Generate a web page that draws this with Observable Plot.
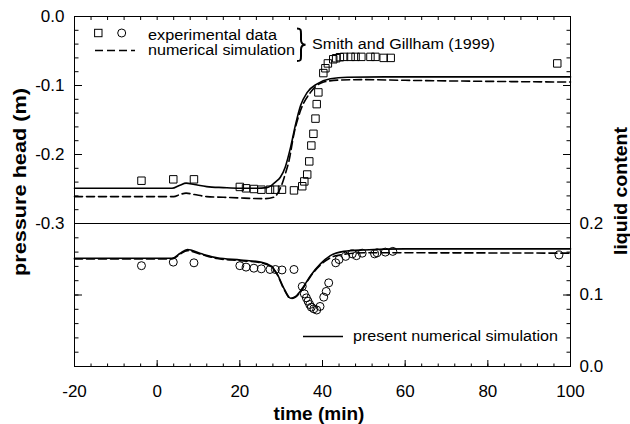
<!DOCTYPE html>
<html><head><meta charset="utf-8">
<script src="https://cdn.jsdelivr.net/npm/d3@7"></script>
<script src="https://cdn.jsdelivr.net/npm/@observablehq/plot@0.6"></script>
<style>
html,body{margin:0;padding:0;background:#fff;}
#wrap{position:relative;width:630px;height:424px;overflow:hidden;background:#fff;}
#wrap svg{position:absolute;left:0;top:0;}
</style></head><body><div id="wrap"></div>
<script>
// ---- tick labels ----
const timeTicks = [-20, 0, 20, 40, 60, 80, 100];
const pressureTicks = [0, -0.1, -0.2, -0.3];
const liquidTicks = [0, 0.1, 0.2];

// ---- pressure head: present numerical simulation (solid) ----
const pSolidT = [-20, 3.6, 5.5, 7.0, 9.0, 12, 16, 20, 24, 26.5, 27.6, 28.6, 29.8, 31.0, 32.3, 33.5, 34.7, 36.3, 38.7, 41.9, 46, 55, 70, 100];
const pSolidV = [-0.249, -0.249, -0.2445, -0.2415, -0.2435, -0.2465, -0.248, -0.249, -0.249, -0.248, -0.245, -0.240, -0.233, -0.218, -0.189, -0.156, -0.129, -0.110, -0.0976, -0.0903, -0.088, -0.0875, -0.0875, -0.0875];

// ---- pressure head: Smith and Gillham numerical simulation (dashed) ----
const pDashT = [-20, 4.0, 5.5, 7.0, 9.0, 12, 16, 20, 26, 28.2, 29.2, 30.2, 31.0, 31.9, 33.1, 34.7, 37.1, 40.3, 44.4, 50, 60, 80, 100];
const pDashV = [-0.261, -0.261, -0.258, -0.256, -0.258, -0.261, -0.262, -0.263, -0.264, -0.262, -0.256, -0.243, -0.228, -0.209, -0.170, -0.136, -0.110, -0.095, -0.092, -0.0915, -0.0925, -0.094, -0.095];

// ---- pressure head: experimental data (squares) ----
const sqT = [-3.8, 3.9, 8.9, 20.0, 21.5, 23.4, 25.2, 27.3, 28.6, 30.2, 33.1, 35.1, 35.6, 36.3, 36.8, 37.3, 37.8, 38.3, 38.6, 39.0, 40.2, 40.7, 41.3, 42.6, 43.3, 44.2, 45.2, 46.8, 48.0, 49.4, 51.6, 52.8, 54.8, 56.5, 96.8];
const sqV = [-0.238, -0.236, -0.236, -0.247, -0.249, -0.250, -0.251, -0.251, -0.251, -0.251, -0.252, -0.246, -0.239, -0.229, -0.210, -0.187, -0.170, -0.148, -0.127, -0.110, -0.082, -0.075, -0.068, -0.062, -0.0605, -0.059, -0.0585, -0.0585, -0.0585, -0.0585, -0.0585, -0.0585, -0.060, -0.060, -0.068];

// ---- liquid content: present numerical simulation (solid) ----
const lSolidT = [-20, 3.6, 5.5, 7.3, 10.5, 14.5, 20.2, 25, 27.4, 29, 30.6, 32.3, 33.5, 35.1, 37.1, 39.5, 41.9, 45.2, 50, 60, 100];
const lSolidV = [0.1513, 0.1513, 0.158, 0.1636, 0.158, 0.152, 0.149, 0.146, 0.141, 0.130, 0.110, 0.0955, 0.098, 0.109, 0.127, 0.1436, 0.155, 0.161, 0.163, 0.1645, 0.1645];

// ---- liquid content: Smith and Gillham numerical simulation (dashed) ----
const lDashT = [-20, 3.6, 5.5, 7.3, 10.5, 14.5, 20.2, 25, 27.4, 29, 30.6, 32.3, 33.5, 35.1, 37.1, 39.5, 41.9, 45.2, 50, 60, 100];
const lDashV = [0.1505, 0.1505, 0.157, 0.162, 0.157, 0.151, 0.148, 0.145, 0.140, 0.129, 0.109, 0.095, 0.097, 0.108, 0.126, 0.142, 0.152, 0.157, 0.159, 0.159, 0.1585];

// ---- liquid content: experimental data (circles) ----
const cT = [-3.8, 3.9, 8.9, 20.0, 21.5, 23.4, 25.2, 27.3, 28.6, 30.2, 33.1, 35.1, 35.6, 36.1, 36.5, 36.9, 37.3, 37.9, 38.6, 39.4, 40.3, 40.9, 41.5, 43.2, 44.0, 45.6, 47.2, 48.2, 49.6, 52.6, 53.2, 55.2, 57.0, 97.2];
const cV = [0.141, 0.146, 0.145, 0.141, 0.139, 0.1375, 0.1366, 0.1357, 0.1357, 0.135, 0.1357, 0.112, 0.1016, 0.096, 0.0913, 0.0867, 0.083, 0.0807, 0.079, 0.084, 0.097, 0.105, 0.117, 0.145, 0.1496, 0.154, 0.1575, 0.155, 0.1585, 0.1575, 0.159, 0.160, 0.161, 0.156];

(function () {
const FONT = '"Liberation Sans", Arial, Helvetica, sans-serif';
const fmt = d => d.toFixed(1);
const none = () => "";
const zip = (a, b) => a.map((x, i) => ({x, y: b[i]}));

const timeMinor = d3.range(-20, 100.001, 4);
const pMinor = d3.range(0, 16).map(i => -0.3 + i * 0.02);
const lMinor = d3.range(0, 11).map(i => i * 0.02);

// inward-pointing tick marks: the tick shape of the opposite side, anchored on this edge
const inTicksY = (ticks, edge, size) => Plot.axisY(ticks, {
  anchor: edge === "left" ? "right" : "left", frameAnchor: edge,
  tickSize: size, tickFormat: none, label: null
});
const inTicksX = (ticks, edge, size) => Plot.axisX(ticks, {
  anchor: edge === "top" ? "bottom" : "top", frameAnchor: edge,
  tickSize: size, tickFormat: none, label: null
});

const wrap = document.getElementById("wrap");
const common = {
  width: 630, height: 424, marginLeft: 74, marginRight: 60,
  x: {domain: [-20, 100]},
  style: {fontFamily: FONT, fontSize: "17px", background: "transparent", color: "black", overflow: "visible"}
};

// Upper pane: pressure head
const upperPlot = Plot.plot({
  ...common,
  marginTop: 16, marginBottom: 201,
  y: {domain: [-0.3, 0]},
  marks: [
    Plot.line(zip(pDashT, pDashV), {x: "x", y: "y", stroke: "black", strokeWidth: 1.6, strokeDasharray: "8,4", curve: "monotone-x"}),
    Plot.line(zip(pSolidT, pSolidV), {x: "x", y: "y", stroke: "black", strokeWidth: 1.6, curve: "monotone-x"}),
    Plot.dot(zip(sqT, sqV), {x: "x", y: "y", symbol: "square", r: 4.2, stroke: "black", fill: "none", strokeWidth: 1}),
    Plot.frame({stroke: "black", strokeWidth: 1}),
    inTicksX(timeMinor, "top", 4),
    inTicksY(pMinor, "left", 3.5),
    inTicksY(pressureTicks, "left", 7),
    Plot.axisY(pressureTicks, {anchor: "left", tickSize: 0, tickPadding: 10, tickFormat: fmt, label: null}),
    inTicksY(pMinor, "right", 3.5),
    inTicksY(pressureTicks, "right", 7)
  ]
});

// Lower pane: liquid content
const lowerPlot = Plot.plot({
  ...common,
  marginTop: 223, marginBottom: 58,
  y: {domain: [0, 0.2]},
  marks: [
    Plot.line(zip(lDashT, lDashV), {x: "x", y: "y", stroke: "black", strokeWidth: 1.6, strokeDasharray: "8,4", curve: "monotone-x"}),
    Plot.line(zip(lSolidT, lSolidV), {x: "x", y: "y", stroke: "black", strokeWidth: 1.6, curve: "monotone-x"}),
    Plot.dot(zip(cT, cV), {x: "x", y: "y", r: 4, stroke: "black", fill: "none", strokeWidth: 1}),
    Plot.frame({stroke: "black", strokeWidth: 1}),
    inTicksX(timeMinor, "bottom", 3.5),
    inTicksX(timeTicks, "bottom", 7),
    Plot.axisX(timeTicks, {anchor: "bottom", tickSize: 0, tickPadding: 18, tickFormat: d => String(d), label: null}),
    inTicksY(lMinor, "left", 3.5),
    inTicksY(liquidTicks, "left", 7),
    inTicksY(lMinor, "right", 3.5),
    inTicksY(liquidTicks, "right", 7),
    Plot.axisY(liquidTicks, {anchor: "right", tickSize: 0, tickPadding: 9, tickFormat: fmt, label: null})
  ]
});

wrap.appendChild(lowerPlot);
wrap.appendChild(upperPlot);

// Overlay: axis titles and in-plot legends
const ov = d3.select(wrap).append("svg")
  .attr("width", 630).attr("height", 424)
  .style("font-family", FONT).style("overflow", "visible");

ov.append("text").attr("x", 319).attr("y", 420).attr("text-anchor", "middle")
  .attr("font-weight", "bold").attr("font-size", 19).text("time (min)");
ov.append("text").attr("transform", "translate(26,182) rotate(-90)").attr("text-anchor", "middle")
  .attr("font-weight", "bold").attr("font-size", 19).attr("textLength", 188).attr("lengthAdjust", "spacingAndGlyphs")
  .text("pressure head (m)");
ov.append("text").attr("transform", "translate(627,191) rotate(-90)").attr("text-anchor", "middle")
  .attr("font-weight", "bold").attr("font-size", 19).attr("textLength", 128).attr("lengthAdjust", "spacingAndGlyphs")
  .text("liquid content");

// legend (top-left)
ov.append("rect").attr("x", 94.6).attr("y", 29.3).attr("width", 7.4).attr("height", 7.4)
  .attr("fill", "none").attr("stroke", "black");
ov.append("circle").attr("cx", 121.7).attr("cy", 33).attr("r", 4)
  .attr("fill", "none").attr("stroke", "black");
ov.append("line").attr("x1", 95).attr("x2", 135).attr("y1", 50.5).attr("y2", 50.5)
  .attr("stroke", "black").attr("stroke-width", 1.6).attr("stroke-dasharray", "8,4");
ov.append("text").attr("x", 148).attr("y", 40).attr("font-size", 14)
  .attr("textLength", 129).attr("lengthAdjust", "spacingAndGlyphs").text("experimental data");
ov.append("text").attr("x", 148).attr("y", 54.5).attr("font-size", 14)
  .attr("textLength", 147).attr("lengthAdjust", "spacingAndGlyphs").text("numerical simulation");
ov.append("path")
  .attr("d", "M297,28.5 C301,28.5 301,30 301,34 L301,40 C301,43 302,44.5 305.5,44.8 C302,45 301,46.5 301,49.5 L301,56 C301,60 301,61 297,61")
  .attr("fill", "none").attr("stroke", "black").attr("stroke-width", 2);
ov.append("text").attr("x", 312).attr("y", 48.5).attr("font-size", 15.5)
  .attr("textLength", 183).attr("lengthAdjust", "spacingAndGlyphs").text("Smith and Gillham (1999)");

// legend (bottom-right)
ov.append("line").attr("x1", 303).attr("x2", 343).attr("y1", 336.5).attr("y2", 336.5)
  .attr("stroke", "black").attr("stroke-width", 1.6);
ov.append("text").attr("x", 353).attr("y", 340.5).attr("font-size", 15.5)
  .attr("textLength", 205).attr("lengthAdjust", "spacingAndGlyphs").text("present numerical simulation");
})();
</script>
</body></html>
